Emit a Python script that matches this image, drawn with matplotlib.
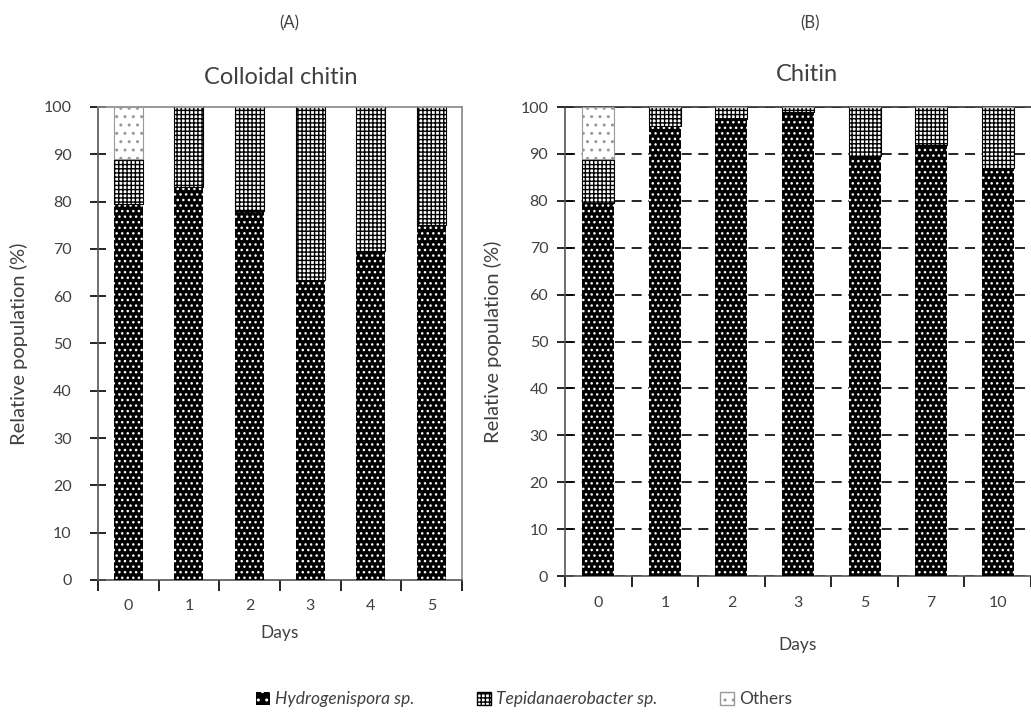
import matplotlib.pyplot as plt
from matplotlib.patches import Patch

plt.rcParams['font.family'] = ['Lato', 'DejaVu Sans']
plt.rcParams['hatch.linewidth'] = 1.0

# Colloidal chitin (A)
days_a = ["0", "1", "2", "3", "4", "5"]
hydro_a = [79.5, 83, 78, 63.5, 69.5, 75]
tepid_a = [9.5, 17, 22, 36.5, 30.5, 25]
others_a = [11, 0, 0, 0, 0, 0]

# Chitin (B)
days_b = ["0", "1", "2", "3", "5", "7", "10"]
hydro_b = [79.5, 96, 97.5, 99, 89.5, 92, 87]
tepid_b = [9.5, 4, 2.5, 1, 10.5, 8, 13]
others_b = [11, 0, 0, 0, 0, 0, 0]

txt = "#404040"
fig = plt.figure(figsize=(10.31, 7.21), dpi=100)


def draw(ax, days, hydro, tepid, others, spine_col, ypad):
    x = range(len(days))
    w = 0.48
    ax.bar(x, hydro, w, color="black", edgecolor="white", hatch="...", linewidth=0, zorder=3)
    ax.bar(x, tepid, w, bottom=hydro, color="white", edgecolor="black", hatch="++++", linewidth=0.8, zorder=3)
    bot2 = [a + b for a, b in zip(hydro, tepid)]
    ax.bar(x, others, w, bottom=bot2, color="white", edgecolor="#999999", hatch="..", linewidth=0.8, zorder=3)
    ax.set_xlim(-0.5, len(days) - 0.5)
    ax.set_ylim(0, 100)
    ax.set_yticks(range(0, 101, 10))
    ax.set_xticks(list(x))
    ax.set_xticklabels(days)
    ax.set_xticks([i + 0.5 for i in range(-1, len(days))], minor=True)
    ax.tick_params(axis="x", which="major", length=0, pad=14, labelsize=11.5, labelcolor=txt)
    ax.tick_params(axis="x", which="minor", length=8, width=1.2, direction="out", color="black")
    ax.tick_params(axis="y", length=12, width=1.2, direction="inout", pad=ypad,
                   labelsize=11.5, labelcolor=txt, color="black")
    for s in ax.spines.values():
        s.set_color(spine_col)
        s.set_linewidth(1.2)
    ax.spines["left"].set_color("#555555")
    ax.spines["bottom"].set_color("#555555")
    ax.set_xlabel("Days", fontsize=12.5, color=txt)
    ax.set_ylabel("Relative population (%)", fontsize=14.5, color=txt)


ax1 = fig.add_axes([0.095, 0.1956, 0.353, 0.656])
draw(ax1, days_a, hydro_a, tepid_a, others_a, "#888888", 13)
ax1.xaxis.labelpad = 8
ax1.yaxis.labelpad = 11

ax2 = fig.add_axes([0.548, 0.201, 0.452, 0.6505])
draw(ax2, days_b, hydro_b, tepid_b, others_b, "#333333", 6)
ax2.yaxis.grid(True, linestyle=(0, (6, 4)), color="black", linewidth=1.2, zorder=0)
ax2.set_axisbelow(True)
ax2.spines["right"].set_visible(False)
ax2.xaxis.labelpad = 20
ax2.yaxis.labelpad = 13

fig.text(0.281, 0.967, "(A)", ha="center", va="center", fontsize=12, color=txt)
fig.text(0.272, 0.893, "Colloidal chitin", ha="center", va="center", fontsize=17, color=txt)
fig.text(0.786, 0.967, "(B)", ha="center", va="center", fontsize=12, color=txt)
fig.text(0.783, 0.896, "Chitin", ha="center", va="center", fontsize=17, color=txt)

handles = [
    Patch(facecolor="black", edgecolor="white", hatch="..", linewidth=0),
    Patch(facecolor="white", edgecolor="black", hatch="++++"),
    Patch(facecolor="white", edgecolor="#999999", hatch=".."),
]
labels = ["Hydrogenispora sp.", "Tepidanaerobacter sp.", "Others"]
leg = fig.legend(handles, labels, loc="center", bbox_to_anchor=(0.508, 0.03), ncol=3,
                 frameon=False, fontsize=12.5, handlelength=0.8, handleheight=0.8,
                 handletextpad=0.3, columnspacing=3.6)
for t, lab in zip(leg.get_texts(), labels):
    t.set_color(txt)
    if lab != "Others":
        t.set_style("italic")

fig.savefig("out.png", dpi=100)
